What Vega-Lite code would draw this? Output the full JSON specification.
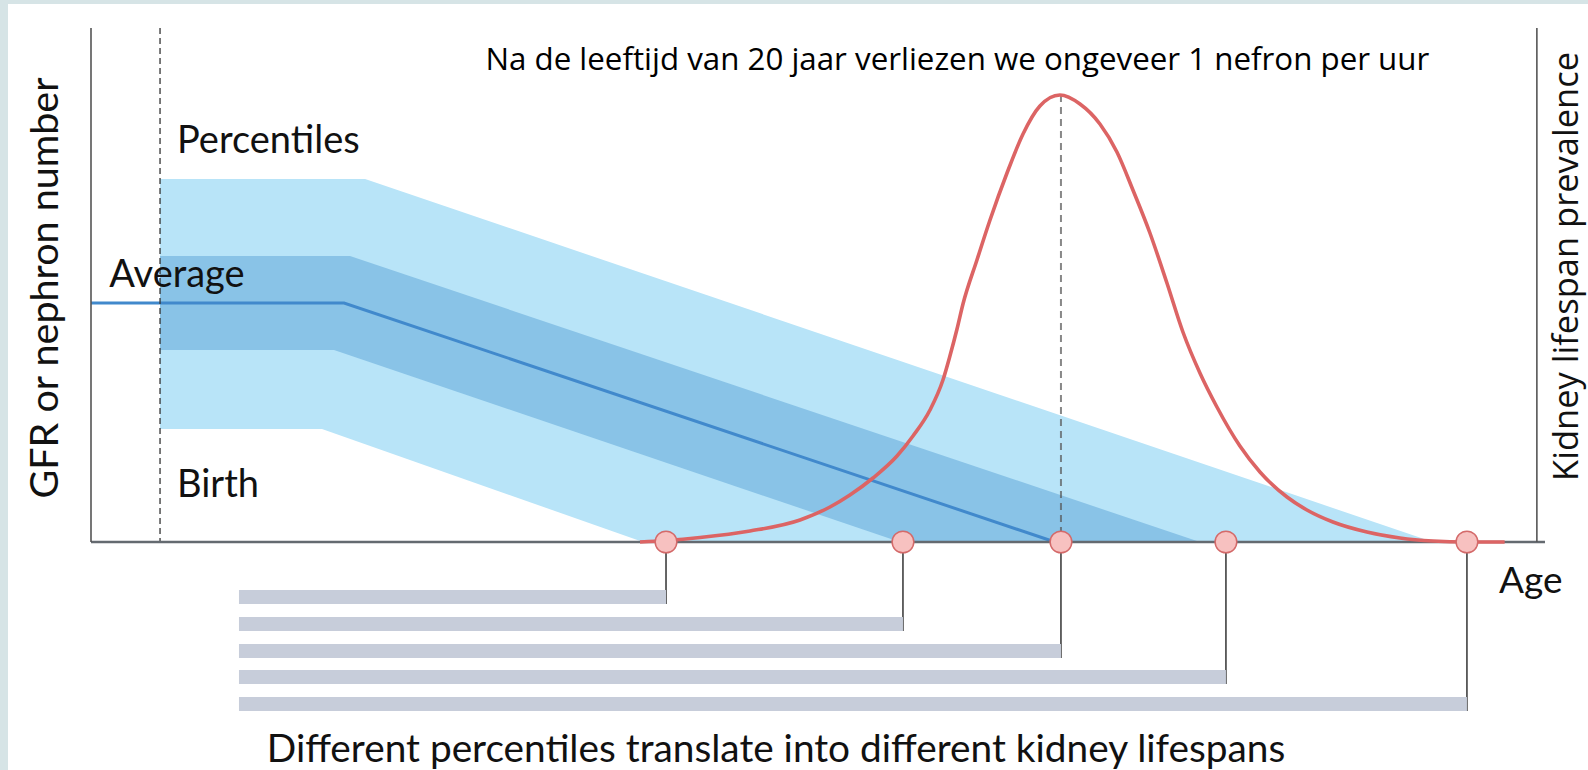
{
  "$schema": "https://vega.github.io/schema/vega-lite/v6.json",
  "width": 1580,
  "height": 766,
  "autosize": "none",
  "padding": {"left": 8, "top": 4, "right": 0, "bottom": 0},
  "background": "#d6e4e6",
  "config": {"view": {"stroke": null, "fill": "white"}},
  "datasets": {
    "percentiles": [
      {"edge": "light_top", "age": 0, "g": 90.75},
      {"edge": "light_top", "age": 18.21, "g": 90.75},
      {"edge": "light_top", "age": 113.03, "g": 0},
      {"edge": "dark_top", "age": 0, "g": 71.5},
      {"edge": "dark_top", "age": 16.87, "g": 71.5},
      {"edge": "dark_top", "age": 92.34, "g": 0},
      {"edge": "dark_bottom", "age": 0, "g": 48},
      {"edge": "dark_bottom", "age": 15.45, "g": 48},
      {"edge": "dark_bottom", "age": 65.7, "g": 0},
      {"edge": "light_bottom", "age": 0, "g": 28.25},
      {"edge": "light_bottom", "age": 14.38, "g": 28.25},
      {"edge": "light_bottom", "age": 42.89, "g": 0}
    ],
    "average": [
      {"age": -6.13, "g": 59.75},
      {"age": 16.34, "g": 59.75},
      {"age": 79.47, "g": 0}
    ],
    "prevalence": [
      {"age": 42.62, "g": 0},
      {"age": 44.93, "g": 0.375},
      {"age": 47.95, "g": 1.125},
      {"age": 52.39, "g": 2.75},
      {"age": 56.83, "g": 5.5},
      {"age": 59.49, "g": 8.75},
      {"age": 61.26, "g": 11.75},
      {"age": 63.31, "g": 16},
      {"age": 65.44, "g": 21.5},
      {"age": 66.86, "g": 26.5},
      {"age": 68.37, "g": 33},
      {"age": 69.52, "g": 40.5},
      {"age": 70.14, "g": 46.5},
      {"age": 70.77, "g": 53.25},
      {"age": 71.3, "g": 59.5},
      {"age": 72.54, "g": 70.5},
      {"age": 73.7, "g": 80.5},
      {"age": 75.21, "g": 92.25},
      {"age": 76.63, "g": 102},
      {"age": 78.13, "g": 109},
      {"age": 79.91, "g": 111.75},
      {"age": 81.69, "g": 109.5},
      {"age": 83.46, "g": 104.5},
      {"age": 84.97, "g": 97.5},
      {"age": 86.39, "g": 88},
      {"age": 87.9, "g": 77.25},
      {"age": 89.41, "g": 64.75},
      {"age": 90.83, "g": 52.5},
      {"age": 92.34, "g": 42.25},
      {"age": 93.85, "g": 33.75},
      {"age": 95.89, "g": 24},
      {"age": 97.67, "g": 17.5},
      {"age": 100.07, "g": 11.25},
      {"age": 101.84, "g": 8},
      {"age": 104.15, "g": 5},
      {"age": 107.17, "g": 2.5},
      {"age": 110.1, "g": 1},
      {"age": 113.03, "g": 0.25},
      {"age": 116.05, "g": 0},
      {"age": 119.4, "g": 0}
    ],
    "lifespans": [
      {"age": 44.93, "g": 0, "start": 7.01, "top": -12, "bottom": -15.5},
      {"age": 65.97, "g": 0, "start": 7.01, "top": -18.75, "bottom": -22.25},
      {"age": 80, "g": 0, "start": 7.01, "top": -25.5, "bottom": -29},
      {"age": 94.65, "g": 0, "start": 7.01, "top": -32, "bottom": -35.5},
      {"age": 116.05, "g": 0, "start": 7.01, "top": -38.75, "bottom": -42.25}
    ],
    "frame": [
      {"age": -6.13, "g": 128.5, "g2": 0},
      {"age": 122.26, "g": 128.5, "g2": 0}
    ]
  },
  "encoding": {
    "x": {"field": "age", "type": "quantitative", "scale": {"domain": [-13.5, 126.8], "nice": false, "zero": false}, "axis": null},
    "y": {"field": "g", "type": "quantitative", "scale": {"domain": [-57, 134.5], "nice": false, "zero": false}, "axis": null}
  },
  "layer": [
    {"data": {"name": "percentiles"}, "transform": [{"filter": "datum.edge === 'light_top'"}],
     "mark": {"type": "area", "color": "#b8e4f8", "opacity": 1}, "encoding": {"y2": {"datum": 0}}},
    {"data": {"name": "percentiles"}, "transform": [{"filter": "datum.edge === 'dark_top'"}],
     "mark": {"type": "area", "color": "#89c3e7", "opacity": 1}, "encoding": {"y2": {"datum": 0}}},
    {"data": {"name": "percentiles"}, "transform": [{"filter": "datum.edge === 'dark_bottom'"}],
     "mark": {"type": "area", "color": "#b8e4f8", "opacity": 1}, "encoding": {"y2": {"datum": 0}}},
    {"data": {"name": "percentiles"}, "transform": [{"filter": "datum.edge === 'light_bottom'"}],
     "mark": {"type": "area", "color": "white", "opacity": 1}, "encoding": {"y2": {"datum": 0}}},
    {"data": {"name": "average"}, "mark": {"type": "line", "color": "#4189cc", "strokeWidth": 3}, "encoding": {}},
    {"data": {"values": [{"age": 0, "g": 128.5, "g2": 0}]},
     "mark": {"type": "rule", "color": "#333333", "strokeWidth": 1.3, "strokeDash": [6, 4]},
     "encoding": {"y2": {"field": "g2"}}},
    {"data": {"values": [{"age": 80, "g": 111.75, "g2": 0}]},
     "mark": {"type": "rule", "color": "#555555", "opacity": 0.7, "strokeWidth": 2, "strokeDash": [7, 5]},
     "encoding": {"y2": {"field": "g2"}}},
    {"data": {"values": [{"age": -6.13, "age2": 122.98, "g": 0}]},
     "mark": {"type": "rule", "color": "#646a70", "strokeWidth": 2.5},
     "encoding": {"x2": {"field": "age2"}}},
    {"data": {"name": "prevalence"}, "mark": {"type": "line", "color": "#dc6464", "strokeWidth": 3.6, "interpolate": "monotone"}, "encoding": {}},
    {"data": {"name": "lifespans"}, "mark": {"type": "rule", "color": "#333333", "strokeWidth": 1.5},
     "encoding": {"y": {"field": "bottom", "type": "quantitative"}, "y2": {"field": "g"}}},
    {"data": {"name": "lifespans"}, "mark": {"type": "rect", "color": "#c7cdda"},
     "encoding": {"x": {"field": "start", "type": "quantitative"}, "x2": {"field": "age"}, "y": {"field": "top", "type": "quantitative"}, "y2": {"field": "bottom"}}},
    {"data": {"name": "lifespans"}, "mark": {"type": "circle", "fill": "#f7c1c0", "stroke": "#d46a6a", "strokeWidth": 1.5, "size": 470, "opacity": 1, "fillOpacity": 1},
     "encoding": {}},
    {"data": {"name": "frame"}, "mark": {"type": "rule", "color": "#555555", "strokeWidth": 1.6},
     "encoding": {"y2": {"field": "g2"}}},
    {"data": {"values": [{"age": 1.51, "g": 97.25, "label": "Percentiles"}, {"age": 1.51, "g": 11.33, "label": "Birth"}, {"age": -4.5, "g": 63.75, "label": "Average"}]},
     "mark": {"type": "text", "font": "Lato", "fontSize": 38, "color": "#111111", "align": "left", "baseline": "alphabetic"},
     "encoding": {"text": {"field": "label"}}},
    {"data": {"values": [{"age": 118.9, "g": -10, "label": "Age"}]},
     "mark": {"type": "text", "font": "Lato", "fontSize": 37, "color": "#111111", "align": "left", "baseline": "middle"},
     "encoding": {"text": {"field": "label"}}},
    {"data": {"values": [{"age": 54.7, "g": -52, "label": "Different percentiles translate into different kidney lifespans"}]},
     "mark": {"type": "text", "font": "Lato", "fontSize": 38.8, "color": "#111111", "align": "center", "baseline": "middle"},
     "encoding": {"text": {"field": "label"}}},
    {"data": {"values": [{"age": -10.12, "g": 63.5, "label": "GFR or nephron number"}]},
     "mark": {"type": "text", "font": "Lato", "fontSize": 39.5, "color": "#111111", "align": "center", "baseline": "middle", "angle": 270},
     "encoding": {"text": {"field": "label"}}},
    {"data": {"values": [{"age": 125.0, "g": 68.9, "label": "Kidney lifespan prevalence"}]},
     "mark": {"type": "text", "font": "Open Sans", "fontSize": 34.5, "color": "#111111", "align": "center", "baseline": "middle", "angle": 270},
     "encoding": {"text": {"field": "label"}}},
    {"data": {"values": [{"age": 70.8, "g": 118, "label": "Na de leeftijd van 20 jaar verliezen we ongeveer 1 nefron per uur"}]},
     "mark": {"type": "text", "font": "Open Sans", "fontSize": 31.3, "color": "#000000", "align": "center", "baseline": "alphabetic"},
     "encoding": {"text": {"field": "label"}}}
  ]
}
